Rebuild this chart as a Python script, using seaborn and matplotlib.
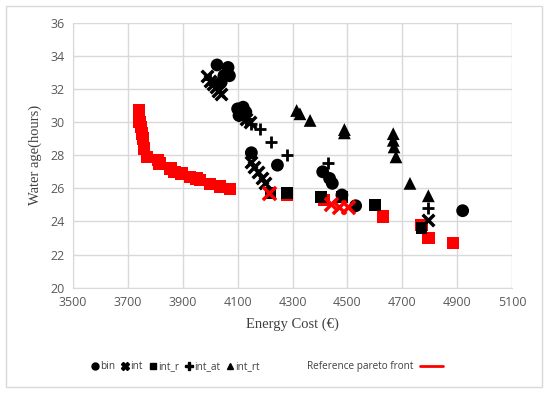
import matplotlib
matplotlib.use("Agg")
import matplotlib.pyplot as plt
import matplotlib.patches as mpatches
from matplotlib.lines import Line2D
import seaborn as sns

# values
bin_x = [4025, 4065, 4070, 4050, 4040, 4100, 4120, 4130, 4105, 4150, 4245, 4410, 4435, 4445, 4480, 4530, 4920]
bin_y = [33.45, 33.3, 32.8, 32.8, 32.4, 30.8, 30.9, 30.6, 30.4, 28.15, 27.4, 27.0, 26.6, 26.3, 25.6, 24.95, 24.65]

int_x = [3990, 4000, 4010, 4020, 4030, 4040, 4110, 4120, 4130, 4145, 4150, 4160, 4175, 4190, 4200, 4795]
int_y = [32.8, 32.5, 32.3, 32.1, 31.9, 31.7, 30.6, 30.4, 30.2, 30.0, 27.6, 27.3, 27.0, 26.6, 26.3, 24.1]

int_r_x = [4220, 4280, 4405, 4480, 4600, 4770]
int_r_y = [25.7, 25.7, 25.5, 25.5, 25.0, 23.6]

int_at_x = [4000, 4015, 4110, 4130, 4150, 4180, 4220, 4280, 4430, 4795]
int_at_y = [32.6, 32.3, 30.5, 30.2, 29.9, 29.6, 28.8, 28.0, 27.5, 24.8]

int_rt_x = [4315, 4327, 4364, 4489, 4489, 4667, 4667, 4670, 4677, 4728, 4795]
int_rt_y = [30.7, 30.5, 30.1, 29.55, 29.35, 29.3, 28.9, 28.5, 27.9, 26.3, 25.55]

ref_x = [3740, 3742, 3748, 3752, 3755, 3758, 3770, 3810, 3815, 3855, 3870, 3895,
         3926, 3950, 3963, 3999, 4036, 4072, 4280, 4415, 4630, 4770, 4795, 4885]
ref_y = [30.7, 30.0, 29.7, 29.3, 29.0, 28.4, 27.9, 27.7, 27.5, 27.2, 27.0, 26.9,
         26.7, 26.6, 26.5, 26.25, 26.1, 25.95, 25.6, 25.3, 24.3, 23.8, 23.0, 22.7]

ref_cross_x = [4215, 4440, 4470, 4502]
ref_cross_y = [25.7, 25.05, 24.85, 24.9]

sns.set_style("whitegrid")
plt.rcParams["font.family"] = ["Open Sans", "DejaVu Sans"]

fig = plt.figure(figsize=(5.5, 3.95), dpi=100)
ax = fig.add_axes([0.1327, 0.2716, 0.931 - 0.1327, 0.9425 - 0.2716])

# outer frame like the exported Excel chart
fig.patches.append(mpatches.Rectangle((0.011, 0.0203), 0.9745, 0.9645, transform=fig.transFigure,
                                      fill=False, edgecolor="#d9d9d9", linewidth=1.0))

sz = 85
sns.scatterplot(x=ref_x, y=ref_y, marker="s", s=80, color="#ff0000", edgecolor="none", ax=ax, zorder=2)
sns.scatterplot(x=ref_cross_x, y=ref_cross_y, marker="x", s=90, color="#ff0000", linewidth=2.5, ax=ax, zorder=5)
sns.scatterplot(x=bin_x, y=bin_y, marker="o", s=sz, color="black", edgecolor="none", ax=ax, zorder=3)
sns.scatterplot(x=int_x, y=int_y, marker="x", s=70, color="black", linewidth=2.5, ax=ax, zorder=3)
sns.scatterplot(x=int_r_x, y=int_r_y, marker="s", s=72, color="black", edgecolor="none", ax=ax, zorder=3)
sns.scatterplot(x=int_at_x, y=int_at_y, marker="+", s=85, color="black", linewidth=2.0, ax=ax, zorder=3)
sns.scatterplot(x=int_rt_x, y=int_rt_y, marker="^", s=sz, color="black", edgecolor="none", ax=ax, zorder=3)

ax.set_xlim(3500, 5100)
ax.set_ylim(20, 36)
ax.set_xticks(range(3500, 5101, 200))
ax.set_yticks(range(20, 37, 2))
ax.grid(True, color="#d9d9d9", linewidth=1.0)
ax.tick_params(axis="both", length=0, labelsize=9, labelcolor="#595959", pad=6)
for sp in ax.spines.values():
    sp.set_visible(False)
ax.spines["bottom"].set_visible(True)
ax.spines["bottom"].set_color("#d9d9d9")
ax.spines["left"].set_visible(True)
ax.spines["left"].set_color("#d9d9d9")

ax.set_xlabel("Energy Cost (€)", fontsize=10.5, color="#404040", family=["Liberation Serif"], labelpad=6)
ax.set_ylabel("Water age(hours)", fontsize=10.5, color="#404040", family=["Liberation Serif"], labelpad=6)

handles = [
    Line2D([], [], marker="o", color="black", linestyle="none", markersize=5),
    Line2D([], [], marker="X", color="black", linestyle="none", markersize=5.5),
    Line2D([], [], marker="s", color="black", linestyle="none", markersize=5),
    Line2D([], [], marker="P", color="black", linestyle="none", markersize=5.5),
    Line2D([], [], marker="^", color="black", linestyle="none", markersize=5),
]
labels = ["bin", "int", "int_r", "int_at", "int_rt"]
fig.legend(handles, labels, loc="center", bbox_to_anchor=(0.318, 0.071), ncol=5, frameon=False,
           fontsize=7.3, handletextpad=0.05, columnspacing=0.45, handlelength=1.0, labelcolor="#404040")

ref_handle = [Line2D([], [], color="#ff0000", linewidth=2.0)]
fig.legend(ref_handle, ["Reference pareto front"], loc="center", bbox_to_anchor=(0.682, 0.071),
           frameon=False, fontsize=7.2, markerfirst=False, handlelength=2.3, handletextpad=0.6,
           labelcolor="#404040")

fig.savefig("out.png", dpi=100)
